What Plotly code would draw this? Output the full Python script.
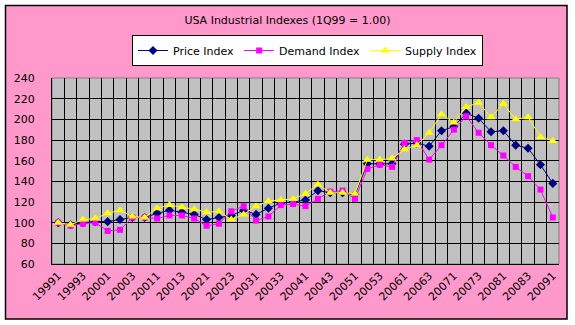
import plotly.graph_objects as go

categories = [
    "19991", "19992", "19993", "19994",
    "20001", "20002", "20003", "20004",
    "20011", "20012", "20013", "20014",
    "20021", "20022", "20023", "20024",
    "20031", "20032", "20033", "20034",
    "20041", "20042", "20043", "20044",
    "20051", "20052", "20053", "20054",
    "20061", "20062", "20063", "20064",
    "20071", "20072", "20073", "20074",
    "20081", "20082", "20083", "20084",
    "20091",
]

price_index = [100, 98, 100, 101, 101, 103, 105, 105, 109, 112, 110, 108, 103, 105, 107,
               112, 108, 114, 119, 120, 122, 131, 129, 129, 127, 157, 157, 157, 176, 177,
               174, 189, 193, 206, 201, 188, 189, 175, 172, 156, 138]
demand_index = [100, 97, 99, 100, 92, 93, 105, 105, 104, 107, 107, 104, 97, 99, 111,
                116, 102, 106, 117, 118, 116, 123, 130, 131, 123, 152, 156, 154, 177, 180,
                161, 175, 190, 203, 187, 175, 165, 154, 145, 132, 105]
supply_index = [100, 98, 103, 104, 109, 112, 106, 105, 114, 117, 115, 113, 110, 111, 103,
                108, 116, 121, 122, 123, 128, 137, 129, 129, 128, 161, 161, 162, 171, 175,
                187, 205, 197, 212, 216, 202, 215, 200, 202, 183, 179]

y_ticks = [60, 80, 100, 120, 140, 160, 180, 200, 220, 240]

FONT = "DejaVu Sans"
W, H = 575, 325
ML, MR, MT, MB = 52, 16, 78, 61
PW, PH = W - ML - MR, H - MT - MB

n = len(categories)
xpos = list(range(n))
label_pos = xpos[::2]
label_text = categories[::2]
boundaries = [i + 0.5 for i in range(n - 1)]

fig = go.Figure()
fig.add_trace(go.Scatter(x=xpos, y=price_index, name="Price Index",
                         mode="lines+markers", text=categories,
                         line=dict(color="#000080", width=1),
                         marker=dict(symbol="diamond", size=7, color="#000080")))
fig.add_trace(go.Scatter(x=xpos, y=demand_index, name="Demand Index",
                         mode="lines+markers", text=categories,
                         line=dict(color="#FF00FF", width=1),
                         marker=dict(symbol="square", size=6, color="#FF00FF")))
fig.add_trace(go.Scatter(x=xpos, y=supply_index, name="Supply Index",
                         mode="lines+markers", text=categories,
                         line=dict(color="#FFFF00", width=1),
                         marker=dict(symbol="triangle-up", size=8, color="#FFFF00")))

def px_x(p):
    return (p - ML) / PW

def px_y(p):
    return (MT + PH - p) / PH

shapes = [
    dict(type="rect", xref="paper", yref="paper", layer="below",
         x0=px_x(5.5), x1=px_x(567), y0=px_y(319), y1=px_y(5.5),
         fillcolor="#FF99CC", line=dict(color="black", width=1.5)),
    dict(type="rect", xref="paper", yref="paper", layer="below",
         x0=0, x1=1, y0=0, y1=1,
         fillcolor="#C0C0C0", line=dict(color="#808080", width=1)),
]

fig.update_layout(
    width=W, height=H,
    margin=dict(l=ML, r=MR, t=MT, b=MB, pad=0),
    paper_bgcolor="white",
    plot_bgcolor="rgba(0,0,0,0)",
    font=dict(family=FONT, size=11, color="black"),
    shapes=shapes,
    title=dict(text="USA Industrial Indexes (1Q99 = 1.00)",
               xref="container", yref="container",
               x=0.5, y=1 - 20.5 / H, xanchor="center", yanchor="middle",
               font=dict(family=FONT, size=11, color="black")),
    showlegend=True,
    legend=dict(orientation="h", x=px_x(132), y=px_y(35),
                xanchor="left", yanchor="top",
                bgcolor="white", bordercolor="black", borderwidth=1,
                font=dict(family=FONT, size=11, color="black"),
                itemwidth=30),
    xaxis=dict(type="linear", range=[-0.5, n - 0.5],
               tickmode="array", tickvals=label_pos, ticktext=label_text,
               tickangle=-45, showgrid=False, zeroline=False,
               showline=True, linecolor="black", linewidth=1,
               ticks="", tickfont=dict(family=FONT, size=11, color="black"),
               minor=dict(tickmode="array", tickvals=boundaries,
                          showgrid=True, gridcolor="black", gridwidth=1,
                          ticks="")),
    yaxis=dict(range=[60, 240], tickmode="array", tickvals=y_ticks,
               showgrid=True, gridcolor="black", gridwidth=1,
               showline=True, linecolor="black", linewidth=1,
               zeroline=False, ticks="", ticklabelstandoff=14,
               tickfont=dict(family=FONT, size=11, color="black")),
)

fig.write_html("out.html")
